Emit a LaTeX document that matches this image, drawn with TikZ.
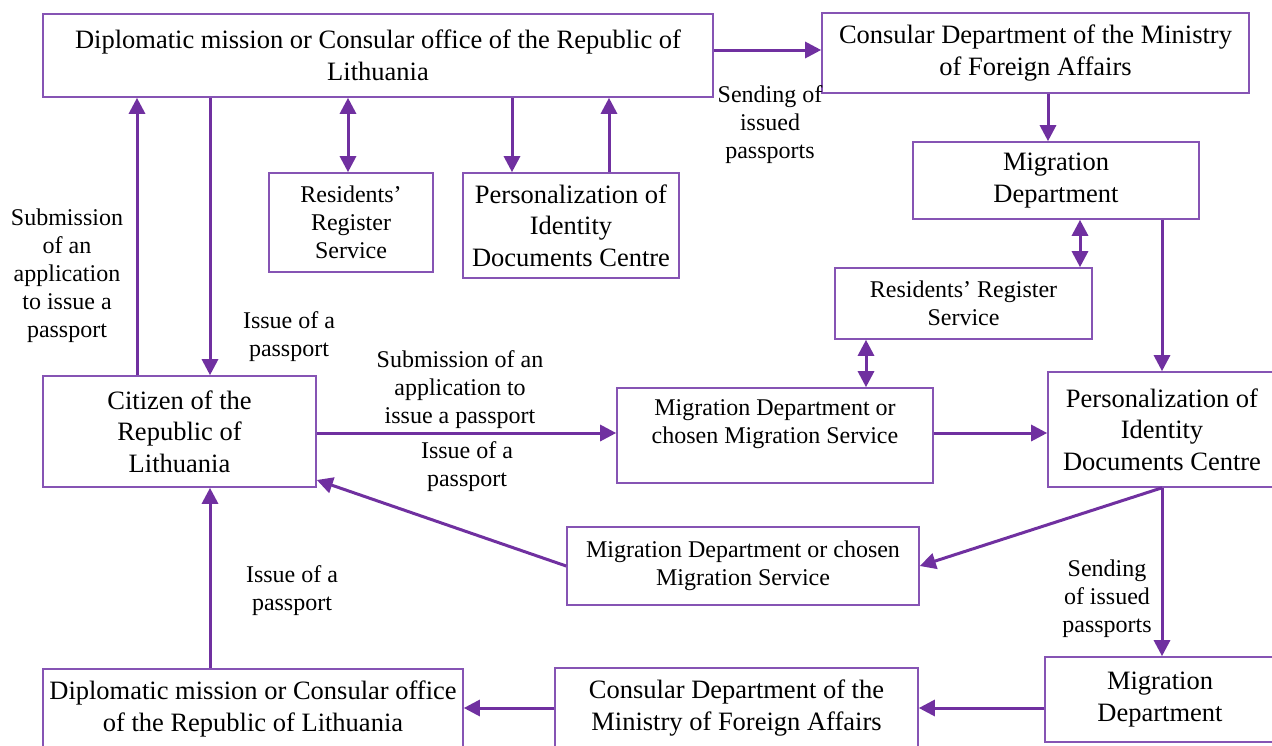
\documentclass[tikz,border=0pt]{standalone}
\usepackage{fontspec}
\setmainfont{Liberation Serif}
\usetikzlibrary{arrows.meta,positioning}
\definecolor{plum}{RGB}{112, 48, 160}
\definecolor{lilac}{RGB}{134, 84, 180}

\tikzset{
  box/.style={draw=lilac, line width=1.6pt, align=center, inner sep=2pt,
              font=\fontsize{26.5}{31.5}\selectfont},
  smallbox/.style={box, font=\fontsize{24}{28}\selectfont},
  note/.style={align=center, inner sep=0pt, font=\fontsize{24}{28}\selectfont},
  flow/.style={draw=plum, line width=3pt, -{Triangle[length=16pt,width=16pt]}},
  biflow/.style={flow, {Triangle[length=16pt,width=16pt]}-{Triangle[length=16pt,width=16pt]}}
}

\begin{document}
\begin{tikzpicture}[x=1pt, y=-1pt]
  \useasboundingbox (0,0) rectangle (1272,745);
  \clip (0,0) rectangle (1272,745);
  % Upper branch: abroad
  \node[box, minimum width=670, minimum height=83] (dip1) at (378,55.5)
       {Diplomatic mission or Consular office of the Republic of\\Lithuania};
  \node[box, minimum width=427, minimum height=80] (cons1) at (1035.5,53)
       {Consular Department of the Ministry\\of Foreign Affairs};
  \node[smallbox, minimum width=164, minimum height=99] (res1) at (351,222.5)
       {Residents'\\Register\\Service};
  \node[box, minimum width=216, minimum height=105] (pers1) at (571,225.5)
       {Personalization of\\Identity\\Documents Centre};
  \node[box, minimum width=286, minimum height=77] (mig1) at (1056,180.5)
       {Migration\\Department};
  \node[smallbox, minimum width=257, minimum height=71] (res2) at (963.5,303.5)
       {Residents' Register\\Service};
  % Middle row
  \node[box, minimum width=273, minimum height=111] (cit) at (179.5,431.5)
       {Citizen of the\\Republic of\\Lithuania};
  \node[smallbox, minimum width=316, minimum height=95] (migs1) at (775,435.5)
       {Migration Department or\\chosen Migration Service\\\mbox{}};
  \node[box, minimum width=228, minimum height=115] (pers2) at (1162,429.5)
       {Personalization of\\Identity\\Documents Centre};
  \node[smallbox, minimum width=352, minimum height=78] (migs2) at (743,566)
       {Migration Department or chosen\\Migration Service};
  % Lower branch
  \node[box, minimum width=230, minimum height=85] (mig2) at (1160,699.5)
       {Migration\\Department};
  \node[box, minimum width=363, minimum height=80] (cons2) at (736.5,708)
       {Consular Department of the\\Ministry of Foreign Affairs};
  \node[box, minimum width=420, minimum height=80] (dip2) at (253,709)
       {Diplomatic mission or Consular office\\of the Republic of Lithuania};

  % Labels
  \node[note] (lsend1) at (770,125) {Sending of\\issued\\passports};
  \node[note] (lsub1) at (67,275.5) {Submission\\of an\\application\\to issue a\\passport};
  \node[note] (liss1) at (289,337) {Issue of a\\passport};
  \node[note] (lsub2) at (460,390) {Submission of an\\application to\\issue a passport};
  \node[note] (liss2) at (467,467) {Issue of a\\passport};
  \node[note] (liss3) at (292,591) {Issue of a\\passport};
  \node[note] (lsend2) at (1107,599) {Sending\\of issued\\passports};

  % Connectors
  \draw[flow] (cit.north -| 137,0) -- (dip1.south -| 137,0);
  \draw[flow] (dip1.south -| 210,0) -- (cit.north -| 210,0);
  \draw[biflow] (dip1.south -| 348,0) -- (res1.north -| 348,0);
  \draw[flow] (dip1.south -| 512,0) -- (pers1.north -| 512,0);
  \draw[flow] (pers1.north -| 609,0) -- (dip1.south -| 609,0);
  \draw[flow] (dip1.east |- 0,50) -- (cons1.west |- 0,50);
  \draw[flow] (cons1.south -| 1048,0) -- (mig1.north -| 1048,0);
  \draw[biflow] (mig1.south -| 1080,0) -- (res2.north -| 1080,0);
  \draw[flow] (mig1.south -| pers2.north) -- (pers2.north);
  \draw[flow] (cit.east |- 0,433) -- (migs1.west |- 0,433);
  \draw[biflow] (res2.south -| 866,0) -- (migs1.north -| 866,0);
  \draw[flow] (migs1.east |- 0,433) -- (pers2.west |- 0,433);
  \draw[flow] (pers2.south) -- (migs2.east);
  \draw[flow] (migs2.west) -- (cit.east |- 0,480);
  \draw[flow] (pers2.south) -- (mig2.north -| pers2.south);
  \draw[flow] (cons2.east -| mig2.west) -- (cons2.east);
  \draw[flow] (cons2.west) -- (dip2.east |- cons2.west);
  \draw[flow] (dip2.north -| 210,0) -- (cit.south -| 210,0);
\end{tikzpicture}
\end{document}
